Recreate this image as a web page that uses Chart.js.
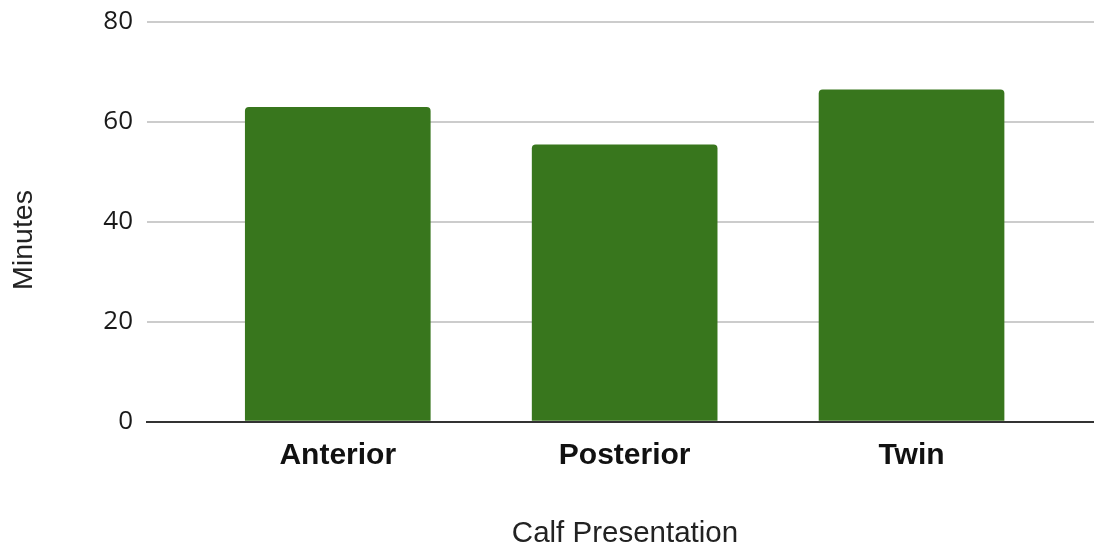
<!DOCTYPE html>
<html>
<head>
<meta charset="utf-8">
<script src="https://cdn.jsdelivr.net/npm/chart.js@4.4.1/dist/chart.umd.min.js"></script>
<style>
  html, body { margin: 0; padding: 0; background: #ffffff; }
  #wrap { width: 1094px; height: 548px; position: relative; }
</style>
</head>
<body>
<div id="wrap"><canvas id="chart"></canvas></div>
<script>
// Average duration (minutes) by calf presentation
const categories = ['Anterior', 'Posterior', 'Twin'];
const minutes = [62.9, 55.4, 66.4];
const yTicks = [0, 20, 40, 60, 80];
const xTitle = 'Calf Presentation';
const yTitle = 'Minutes';

const barColor = '#38761d';

// Axis titles drawn at fixed spots around the plot
const axisTitles = {
  id: 'axisTitles',
  afterDraw(chart) {
    const ctx = chart.ctx;
    ctx.save();
    ctx.fillStyle = '#222222';
    ctx.textAlign = 'center';
    ctx.textBaseline = 'middle';
    ctx.font = '29.5px "Liberation Sans", Arial, sans-serif';
    ctx.fillText(xTitle, 625, 534);
    ctx.font = '28.5px "Liberation Sans", Arial, sans-serif';
    ctx.translate(24, 240);
    ctx.rotate(-Math.PI / 2);
    ctx.fillText(yTitle, 0, 0);
    ctx.restore();
  }
};

new Chart(document.getElementById('chart'), {
  type: 'bar',
  data: {
    datasets: [{
      data: categories.map((c, i) => ({ x: i, y: minutes[i] })),
      backgroundColor: barColor,
      borderRadius: { topLeft: 4, topRight: 4, bottomLeft: 0, bottomRight: 0 },
      borderSkipped: 'start',
      barThickness: 185
    }]
  },
  options: {
    responsive: true,
    maintainAspectRatio: false,
    animation: false,
    layout: { padding: { top: 22, right: 0, left: 0, bottom: 0 } },
    plugins: { legend: { display: false }, tooltip: { enabled: false } },
    scales: {
      x: {
        type: 'linear',
        offset: false,
        min: -0.665,
        max: 2.636,
        afterBuildTicks: axis => { axis.ticks = categories.map((c, i) => ({ value: i })); },
        afterFit: axis => { axis.height = 126.5; axis.paddingLeft = 0; axis.paddingRight = 0; },
        grid: { display: false, drawTicks: false },
        border: { display: true, color: '#333333', width: 2 },
        ticks: {
          autoSkip: false,
          maxRotation: 0,
          padding: 16,
          color: '#111111',
          font: { family: '"Liberation Sans", Arial, sans-serif', size: 30, weight: 'bold' },
          callback: v => categories[v] ?? ''
        }
      },
      y: {
        min: 0,
        max: 80,
        afterBuildTicks: axis => { axis.ticks = yTicks.map(v => ({ value: v })); },
        afterFit: axis => { axis.width = 147; axis.paddingTop = 0; axis.paddingBottom = 0; },
        grid: {
          color: ctx => ctx.tick && ctx.tick.value === 0 ? 'rgba(0,0,0,0)' : '#cccccc',
          lineWidth: 2,
          drawTicks: false
        },
        border: { display: false },
        ticks: {
          padding: 14,
          color: '#1a1a1a',
          font: { family: '"Open Sans", sans-serif', size: 26 }
        }
      }
    }
  },
  plugins: [axisTitles]
});
</script>
</body>
</html>
